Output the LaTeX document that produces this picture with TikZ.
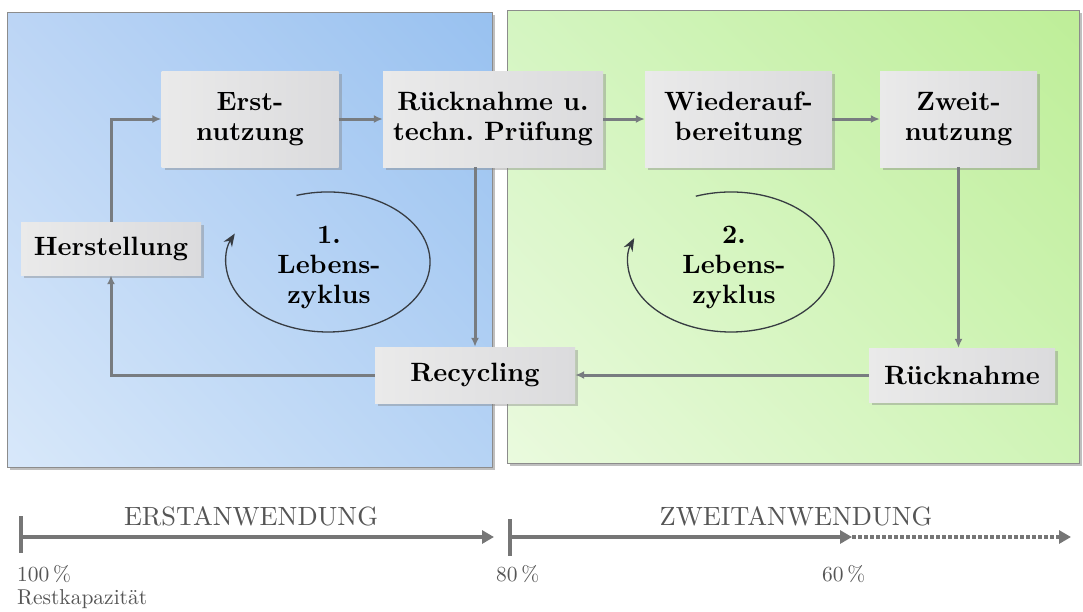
\documentclass[tikz,border=0pt]{standalone}
\usepackage{fontspec}
\setmainfont{lmroman10-regular}[Extension=.otf, BoldFont=lmroman10-bold]
\usetikzlibrary{arrows.meta,shadows,shadings,calc}

% panel shading corners
\definecolor{blueUL}{RGB}{188,213,245}
\definecolor{blueUR}{RGB}{152,193,240}
\definecolor{blueLL}{RGB}{216,232,250}
\definecolor{blueLR}{RGB}{182,211,244}
\definecolor{greenUL}{RGB}{212,245,193}
\definecolor{greenUR}{RGB}{190,238,152}
\definecolor{greenLL}{RGB}{234,250,222}
\definecolor{greenLR}{RGB}{207,244,182}
% lines and text
\definecolor{conngray}{RGB}{120,124,128}
\definecolor{cycgray}{RGB}{55,60,66}
\definecolor{axisgray}{RGB}{118,118,118}
\definecolor{axistext}{RGB}{85,85,85}
\definecolor{boxA}{RGB}{234,234,234}
\definecolor{boxB}{RGB}{219,219,221}

\newcommand\boxfont{\fontsize{26.5}{30}\selectfont\bfseries}
\newcommand\headfont{\fontsize{26.4}{30}\selectfont}
\newcommand\labelfont{\fontsize{21.5}{24}\selectfont}

\tikzset{
  panel/.style={draw=black!45, line width=0.7pt,
    drop shadow={shadow xshift=3pt, shadow yshift=-3pt, opacity=0.5}},
  stepbox/.style={rectangle, inner sep=0pt, align=center, font=\boxfont,
    left color=boxA, right color=boxB,
    drop shadow={shadow xshift=3pt, shadow yshift=-3pt, opacity=0.4}},
  conn/.style={draw=conngray, line width=3pt, -{Latex[length=9pt,width=8pt]}},
  cyc/.style={draw=cycgray, line width=1.3pt, -{Stealth[length=13pt,width=10pt]}},
  cyctext/.style={align=center, font=\boxfont, inner sep=0pt},
  tickline/.style={draw=axisgray, line width=3.5pt},
  axisline/.style={draw=axisgray, line width=4pt, -{Triangle[length=12pt,width=13pt]}},
  axisdots/.style={draw=axisgray, line width=3.5pt, dash pattern=on 3.5pt off 2.5pt,
    -{Triangle[length=12pt,width=13pt]}},
  headtext/.style={font=\headfont, text=axistext, anchor=base, inner sep=0pt},
  pcttext/.style={font=\labelfont, text=axistext, anchor=base west, inner sep=0pt},
}

\begin{document}
\begin{tikzpicture}[x=1pt, y=-1pt]
\useasboundingbox (0,0) rectangle (1083,611);

% first-use panel and second-use panel
\shadedraw[panel, upper left=blueUL, upper right=blueUR,
  lower left=blueLL, lower right=blueLR] (7,12) rectangle (492,467);
\shadedraw[panel, upper left=greenUL, upper right=greenUR,
  lower left=greenLL, lower right=greenLR] (507,10) rectangle (1079,463);

% process steps
\node[stepbox, minimum width=177pt, minimum height=96pt] (er) at (250,119) {Erst-\\nutzung};
\node[stepbox, minimum width=220pt, minimum height=96pt] (rp) at (493,119) {Rücknahme u.\\techn.\ Prüfung};
\node[stepbox, minimum width=187pt, minimum height=96pt] (wa) at (738.5,119) {Wiederauf-\\bereitung};
\node[stepbox, minimum width=157pt, minimum height=96pt] (zw) at (958.5,119) {Zweit-\\nutzung};
\node[stepbox, minimum width=180pt, minimum height=53pt] (hs) at (111,248.5) {Herstellung};
\node[stepbox, minimum width=200pt, minimum height=56pt] (rc) at (475,375) {Recycling};
\node[stepbox, minimum width=186pt, minimum height=54pt] (rn) at (962,375) {Rücknahme};

% flow between the steps
\draw[conn] (hs.north) |- (er.west);
\draw[conn] (er.east) -- (rp.west);
\draw[conn] (rp.east) -- (wa.west);
\draw[conn] (wa.east) -- (zw.west);
\draw[conn] (zw.south) -- (zw.south |- rn.north);
\draw[conn] (rn.west) -- (rc.east);
\draw[conn] (rc.west) -| (hs.south);
\draw[conn] (rp.south -| rc.north) -- (rc.north);

% life cycles
\node[cyctext] (l1) at (329,267) {1.\\Lebens-\\zyklus};
\node[cyctext] (l2) at (734,267) {2.\\Lebens-\\zyklus};
\coordinate (l1s) at (296.5,195.4);
\coordinate (l2s) at (695.8,196.2);
\draw[cyc] (l1s) arc[start angle=108, end angle=-204, x radius=102pt, y radius=70pt];
\draw[cyc] (l2s) arc[start angle=110, end angle=-200, x radius=103pt, y radius=70pt];

% remaining capacity axis
\coordinate (t1a) at (21,516);
\coordinate (t1b) at (21,553);
\coordinate (t2a) at (510,519);
\coordinate (t2b) at (510,556);
\coordinate (a1s) at (21,537);
\coordinate (a1e) at (494,537);
\coordinate (a2s) at (510,537);
\coordinate (a2m) at (852,537);
\coordinate (a2e) at (1071,537);
\draw[tickline] (t1a) -- (t1b);
\draw[tickline] (t2a) -- (t2b);
\draw[axisline] (a1s) -- (a1e);
\draw[axisline] (a2s) -- (a2m);
\draw[axisdots] (a2m) -- (a2e);

\node[headtext] (h1) at (251,525) {ERSTANWENDUNG};
\node[headtext] (h2) at (796,525) {ZWEITANWENDUNG};
\node[pcttext] (p100) at (17,581) {100\,\%};
\node[pcttext] (p80) at (496,581) {80\,\%};
\node[pcttext] (p60) at (822,581) {60\,\%};
\node[pcttext] (rk) at (17,604) {Restkapazität};
\end{tikzpicture}
\end{document}
